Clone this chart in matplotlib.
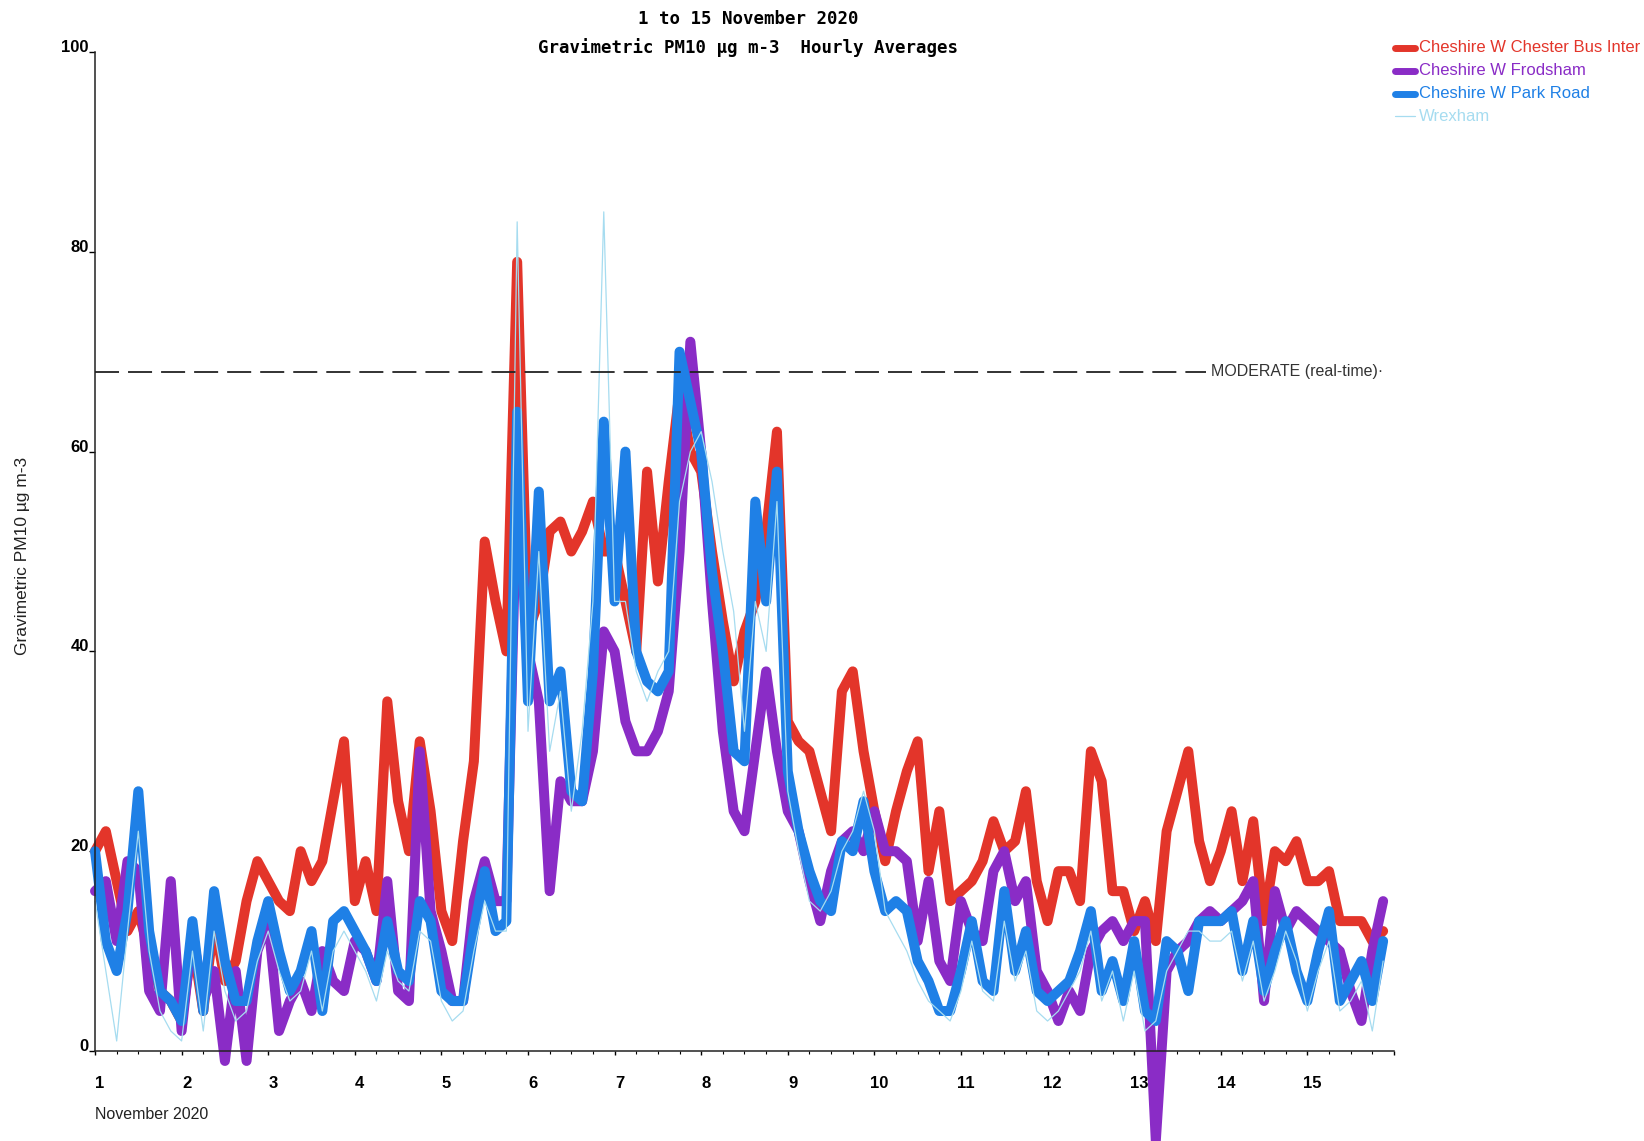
"""PM10 hourly averages, 1 to 15 November 2020 (four Cheshire / Wrexham sites)."""

import matplotlib

matplotlib.use("Agg")

import matplotlib.pyplot as plt
import matplotlib.transforms as mtransforms
from matplotlib.lines import Line2D
import numpy as np

# ---------------------------------------------------------------------------
# Data: values every 3 hours, Nov 1 00:00 .. Nov 15 21:00
# ---------------------------------------------------------------------------

HOURS = np.arange(0, 360, 3)

chester_bus = [
    20, 22, 17, 12, 14, 10, 6, 5,
    3, 11, 4, 13, 7, 9, 15, 19,
    17, 15, 14, 20, 17, 19, 25, 31,
    15, 19, 14, 35, 25, 20, 31, 24,
    14, 11, 21, 29, 51, 45, 40, 79,
    42, 45, 52, 53, 50, 52, 55, 50,
    50, 45, 40, 58, 47, 57, 66, 60,
    58, 50, 43, 37, 42, 45, 52, 62,
    33, 31, 30, 26, 22, 36, 38, 30,
    24, 19, 24, 28, 31, 18, 24, 15,
    16, 17, 19, 23, 20, 21, 26, 17,
    13, 18, 18, 15, 30, 27, 16, 16,
    12, 15, 11, 22, 26, 30, 21, 17,
    20, 24, 17, 23, 13, 20, 19, 21,
    17, 17, 18, 13, 13, 13, 11, 12,
]

frodsham = [
    16, 17, 11, 19, 18, 6, 4, 17,
    2, 12, 5, 8, -1, 8, -1, 10,
    13, 2, 5, 7, 4, 10, 7, 6,
    11, 10, 7, 17, 6, 5, 30, 14,
    10, 5, 5, 15, 19, 15, 15, 58,
    40, 35, 16, 27, 25, 25, 30, 42,
    40, 33, 30, 30, 32, 36, 50, 71,
    60, 45, 32, 24, 22, 30, 38, 30,
    24, 22, 17, 13, 18, 21, 22, 20,
    24, 20, 20, 19, 11, 17, 9, 7,
    15, 12, 11, 18, 20, 15, 17, 8,
    6, 3, 6, 4, 10, 12, 13, 11,
    13, 13, -9, 8, 10, 11, 13, 14,
    13, 14, 15, 17, 5, 16, 12, 14,
    13, 12, 11, 10, 6, 3, 10, 15,
]

park_road = [
    20, 11, 8, 14, 26, 12, 6, 5,
    3, 13, 4, 16, 9, 5, 5, 11,
    15, 10, 6, 8, 12, 4, 13, 14,
    12, 10, 7, 13, 8, 7, 15, 13,
    6, 5, 5, 12, 18, 12, 13, 64,
    35, 56, 35, 38, 26, 25, 38, 63,
    45, 60, 40, 37, 36, 38, 70, 65,
    60, 48, 40, 30, 29, 55, 45, 58,
    28, 22, 18, 15, 14, 21, 20, 25,
    18, 14, 15, 14, 9, 7, 4, 4,
    8, 13, 7, 6, 16, 8, 12, 6,
    5, 6, 7, 10, 14, 6, 9, 5,
    11, 4, 3, 11, 10, 6, 13, 13,
    13, 14, 8, 13, 6, 10, 13, 8,
    5, 10, 14, 5, 7, 9, 5, 11,
]

wrexham = [
    15, 8, 1, 12, 22, 10, 4, 2,
    1, 10, 2, 12, 6, 3, 4, 9,
    12, 8, 5, 6, 10, 4, 10, 12,
    10, 8, 5, 10, 7, 6, 12, 11,
    5, 3, 4, 10, 15, 12, 12, 83,
    32, 50, 30, 36, 24, 32, 45, 84,
    45, 45, 38, 35, 38, 40, 55, 60,
    62, 57, 50, 44, 32, 45, 40, 55,
    26, 20, 15, 14, 16, 20, 22, 26,
    22, 14, 12, 10, 7, 5, 4, 3,
    6, 11, 6, 5, 13, 7, 10, 4,
    3, 4, 6, 8, 12, 5, 8, 3,
    8, 2, 3, 8, 10, 12, 12, 11,
    11, 12, 7, 11, 5, 8, 12, 9,
    4, 8, 11, 4, 5, 7, 2, 9,
]

SITE_NAMES = [
    "Cheshire W Chester Bus Inter",
    "Cheshire W Frodsham",
    "Cheshire W Park Road",
    "Wrexham",
]
MODERATE = 68
DAY_LABELS = [str(d) for d in range(1, 16)]

# ---------------------------------------------------------------------------
# Styling
# ---------------------------------------------------------------------------

COLORS = ["#e3352a", "#8a2cc6", "#1f80e6", "#a6dcf0"]
WIDTHS = [7.2, 7.2, 7.2, 0.9]

plt.rcParams["font.family"] = ["Liberation Sans", "DejaVu Sans"]

fig = plt.figure(figsize=(16.44, 11.41), dpi=100)
ax = fig.add_axes([0.0578, 0.0789, 0.7901, 0.8755])

days = 1 + HOURS / 24.0
series = [chester_bus, frodsham, park_road, wrexham]
for vals, color, lw in zip(series, COLORS, WIDTHS):
    ax.plot(days, vals, color=color, lw=lw, solid_capstyle="round",
            solid_joinstyle="round", clip_on=False)

# moderate band line
ax.axhline(MODERATE, xmin=0.0, xmax=0.855, color="#222222", lw=1.3,
           ls=(0, (13.3, 5.0)))
ax.text(0.859, MODERATE, "MODERATE (real-time)\u00b7",
        transform=ax.get_yaxis_transform(), ha="left", va="center",
        fontsize=11.5, color="#333333")

ax.set_xlim(1, 16)
ax.set_ylim(0, 100)
for side in ("top", "right"):
    ax.spines[side].set_visible(False)
for side in ("left", "bottom"):
    ax.spines[side].set_linewidth(1.1)
    ax.spines[side].set_color("#222222")

ax.set_xticks(np.arange(1, 17), DAY_LABELS + [""])
ax.set_xticks(np.arange(1, 16.01, 0.25), minor=True)
ax.tick_params(axis="x", which="major", direction="out", length=3,
               width=1.0, pad=15, labelsize=12)
ax.tick_params(axis="x", which="minor", direction="out", length=1.8,
               width=0.8)
ax.set_yticks(np.arange(0, 101, 20))
ax.tick_params(axis="y", which="major", direction="out", length=4,
               width=1.0, pad=0.5, labelsize=12)

dx = mtransforms.ScaledTranslation(5 / 100, 0, fig.dpi_scale_trans)
dy = mtransforms.ScaledTranslation(0, 6 / 100, fig.dpi_scale_trans)
for lab in ax.get_xticklabels():
    lab.set_fontweight("bold")
    lab.set_transform(lab.get_transform() + dx)
for lab in ax.get_yticklabels():
    lab.set_fontweight("bold")
    lab.set_transform(lab.get_transform() + dy)

fig.text(0.0578, 0.0228, "November 2020", ha="left", va="center",
         fontsize=11.5, color="#222222")
fig.text(0.0134, 0.513, "Gravimetric PM10 \u00b5g m-3", rotation=90,
         ha="center", va="center", fontsize=12.5, color="#222222")

# titles in a blocky monospace face
fig.text(0.455, 0.983, "1 to 15 November 2020", ha="center", va="center",
         family="DejaVu Sans Mono", fontweight="bold", fontsize=12.5)
fig.text(0.455, 0.958, "Gravimetric PM10 \u00b5g m-3  Hourly Averages",
         ha="center", va="center", family="DejaVu Sans Mono",
         fontweight="bold", fontsize=12.5)

# hand-built legend to the right of the plot
leg_y = [0.958, 0.938, 0.918, 0.898]
for name, color, lw, y in zip(SITE_NAMES, COLORS, WIDTHS, leg_y):
    handle_lw = 5.0 if lw > 2 else 0.9
    fig.add_artist(Line2D([0.8485, 0.8605], [y, y], transform=fig.transFigure,
                          color=color, lw=handle_lw, solid_capstyle="round"))
    fig.text(0.863, y, name, ha="left", va="center", fontsize=12,
             color=color)

fig.savefig("out.png", dpi=100)
